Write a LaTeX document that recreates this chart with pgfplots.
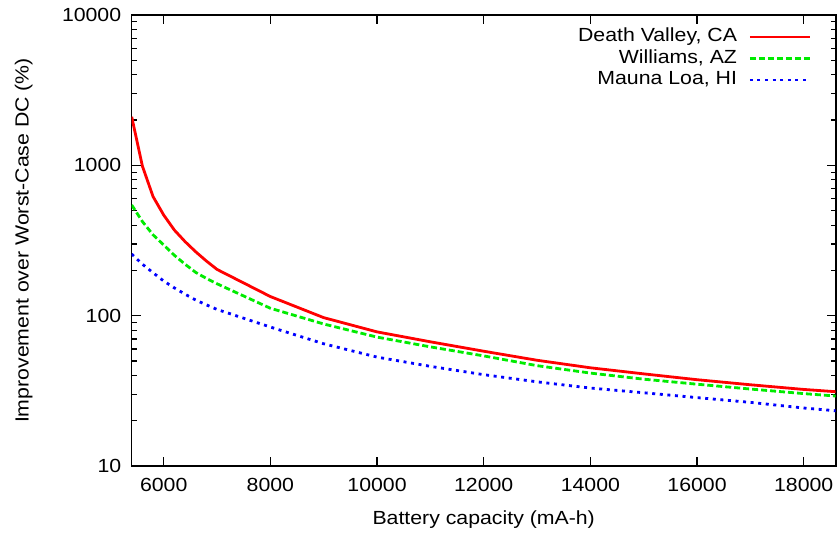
\documentclass[border=0pt]{standalone}
\usepackage{pgfplots}
\pgfplotsset{compat=1.18}
\usepackage{fontspec}
\setmainfont{Liberation Sans}[FakeStretch=1.12]
\definecolor{gpred}{RGB}{255,0,0}
\definecolor{gpgreen}{RGB}{0,235,0}
\definecolor{gpblue}{RGB}{0,0,255}
\begin{document}
\begin{tikzpicture}[font=\fontsize{19bp}{23bp}\selectfont]
\begin{semilogyaxis}[
  scale only axis, width=704bp, height=451bp,
  xmin=5400, xmax=18600, ymin=10, ymax=10000,
  xtick={6000,8000,10000,12000,14000,16000,18000},
  ytick={10,100,1000,10000},
  yticklabels={10,100,1000,10000},
  minor ytick={20,30,40,50,60,70,80,90,200,300,400,500,600,700,800,900,2000,3000,4000,5000,6000,7000,8000,9000},
  scaled x ticks=false,
  xticklabel style={/pgf/number format/1000 sep=, /pgf/number format/assume math mode=true},
  xticklabel shift=9bp, yticklabel shift=7bp,
  tick align=inside,
  major tick length=9bp, minor tick length=5bp,
  every tick/.style={black, line width=1.2bp},
  axis line style={line width=1.6bp},
  xlabel={Battery capacity (mA-h)},
  ylabel={Improvement over Worst-Case DC (\%)},
  every axis x label/.style={at={([yshift=-59bp]axis description cs:0.5,0)}, anchor=base},
  every axis y label/.style={at={([xshift=-103bp]axis description cs:0,0.5)}, rotate=90, anchor=base},
  legend plot pos=right,
  legend cell align=right,
  legend style={draw=none, fill=none, at={(rel axis cs:0.9656,0.975)}, anchor=north east, inner sep=0pt,
    row sep=0.5bp, column sep=10bp,
    nodes={inner sep=1.5bp, text height=14bp, text depth=4bp}},
  legend image code/.code={\draw[#1] (0bp,0bp) -- (60bp,0bp);},
]
\addplot[gpred, line width=2.8bp] coordinates {
(5400,2105) (5600,990) (5800,620) (6000,467) (6200,371) (6400,311) (6600,266) (6800,231) (7000,203)
(8000,134) (9000,97) (10000,78) (11000,67) (12000,58) (13000,50.5) (14000,45) (15000,41) (16000,37.5)
(17000,34.7) (18000,32.3) (18600,31.2)};
\addlegendentry{Death Valley, CA}
\addplot[gpgreen, line width=2.8bp, dash pattern=on 6bp off 3bp] coordinates {
(5400,545) (5600,423) (5800,345) (6000,295) (6200,252) (6400,220) (6600,194) (6800,177) (7000,163)
(8000,112) (9000,88) (10000,72) (11000,62) (12000,54) (13000,46.5) (14000,41.5) (15000,37.8) (16000,35)
(17000,32.5) (18000,30.3) (18600,29.2)};
\addlegendentry{Williams, AZ}
\addplot[gpblue, line width=2.8bp, dash pattern=on 3bp off 4.6bp] coordinates {
(5400,257) (5600,220) (5800,193) (6000,170) (6200,153) (6400,139) (6600,127) (6800,118) (7000,110)
(8000,84) (9000,65) (10000,53) (11000,46) (12000,40.5) (13000,36.3) (14000,33) (15000,30.7) (16000,28.5)
(17000,26.5) (18000,24.3) (18600,23.3)};
\addlegendentry{Mauna Loa, HI}
\end{semilogyaxis}
\pgfresetboundingbox
\path[use as bounding box] ([xshift=-131.7bp,yshift=-69bp]current axis.south west) rectangle ([xshift=2.3bp,yshift=15bp]current axis.north east);
\end{tikzpicture}
\end{document}
